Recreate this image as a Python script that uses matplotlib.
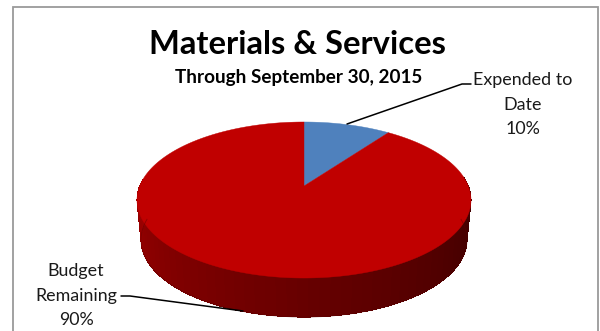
import numpy as np
import matplotlib
matplotlib.use("Agg")
import matplotlib.pyplot as plt
from matplotlib.patches import Polygon, Rectangle

categories = ["Expended to\nDate", "Budget\nRemaining"]
shares = [10, 90]
slice_colors = ["#4f81bd", "#c00000"]
title = "Materials & Services"
subtitle = "Through September 30, 2015"

plt.rcParams["font.family"] = ["Lato", "DejaVu Sans"]

fig = plt.figure(figsize=(6.0, 3.31), dpi=100)
ax = fig.add_axes([0, 0, 1, 1])
ax.set_xlim(0, 600)
ax.set_ylim(331, 0)
ax.axis("off")

ax.add_patch(Rectangle((13, 7), 585, 345, fc="white", ec="#9a9a9a", lw=1.3))

# Perspective projection of the pie's top face
CX, APEX_Y, A, B, K = 304.0, 186.0, 164.3, 75.5, 0.1795


def top_face(theta):
    """Clockwise angle from twelve o'clock to screen position on the tilted disc."""
    u, v = np.sin(theta), np.cos(theta)
    d = 1 + K * v
    return CX + A * u / d, APEX_Y - B * v / d


def base_rim(theta):
    """Matching point on the lower rim of the pie's side wall."""
    x, y = top_face(theta)
    return CX + (x - CX) * 0.976, y + 40 + (y - 200) * -0.012


def wall_color(t):
    stops = np.array([[0.62, 0.0, 0.0], [0.40, 0.0, 0.0], [0.22, 0.0, 0.0]])
    pos = np.array([0.0, 0.5, 1.0])
    return tuple(np.interp(t, pos, stops[:, i]) for i in range(3))


# Side wall, built from narrow overlapping strips shaded left to right
edges = np.linspace(np.pi * 0.47, np.pi * 1.53, 61)
for a0, a1 in zip(edges[:-1], edges[1:]):
    t = 1 - ((a0 + a1) / 2 - edges[0]) / (edges[-1] - edges[0])
    seg = np.linspace(a0 - 0.02, a1, 5)
    xt, yt = top_face(seg)
    xb, yb = base_rim(seg)
    pts = np.column_stack([np.r_[xt, xb[::-1]], np.r_[yt, yb[::-1]]])
    ax.add_patch(Polygon(pts, closed=True, fc=wall_color(t), ec="none", antialiased=False))

# Soft outer edge on the lower rim of the wall
low = np.linspace(edges[0], edges[-1], 200)
xb, yb = base_rim(low)
ax.plot(xb, yb, color="#5a0000", lw=0.6, alpha=0.5)

# Top face wedges, sized from the shares
fractions = np.cumsum([0] + shares) / sum(shares) * 2 * np.pi
for start, stop, color in zip(fractions[:-1], fractions[1:], slice_colors):
    th = np.linspace(start, stop, 300)
    xs, ys = top_face(th)
    pts = np.column_stack([np.r_[CX, xs], np.r_[APEX_Y, ys]])
    ax.add_patch(Polygon(pts, closed=True, fc=color, ec=color, lw=0.3))

ax.text(297.5, 45, title, ha="center", va="center", fontsize=23.6, fontweight="bold", color="black")
ax.text(298.5, 77, subtitle, ha="center", va="center", fontsize=13.6, fontweight="bold", color="black")

# Data labels with their leader lines
ax.text(523, 104.5, f"{categories[0]}\n{shares[0]}%", ha="center", va="center",
        fontsize=12.9, color="#1a1a1a", linespacing=1.63)
ax.plot([347, 462, 471], [124, 84, 84], color="black", lw=1.1, solid_capstyle="round")

ax.text(76, 295.5, f"{categories[1]}\n{shares[1]}%", ha="center", va="center",
        fontsize=12.9, color="#1a1a1a", linespacing=1.63)
ax.plot([121, 130, 243], [296, 296, 311], color="black", lw=1.1, solid_capstyle="round")

fig.savefig("out.png", dpi=100)
